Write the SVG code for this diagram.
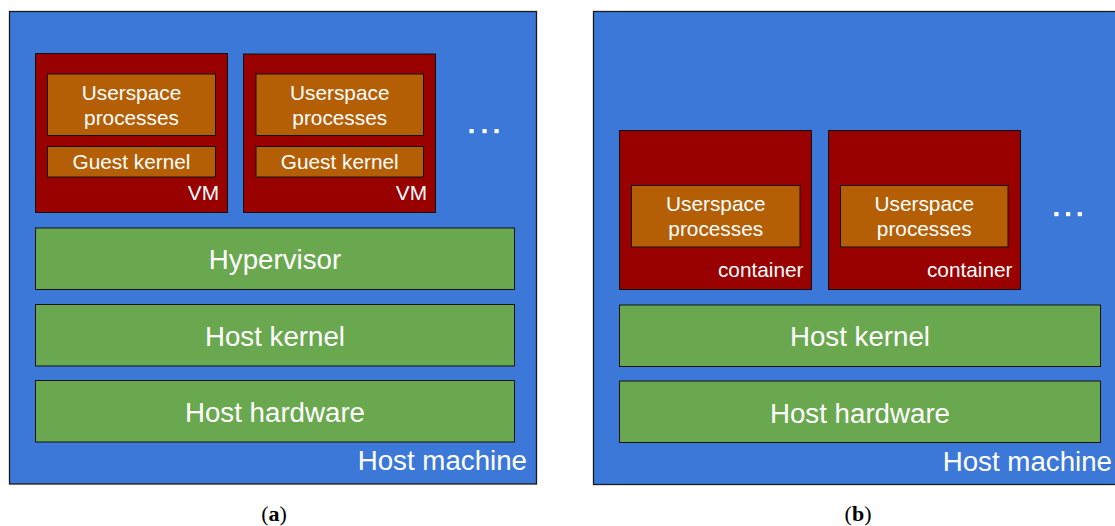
<svg xmlns="http://www.w3.org/2000/svg" width="1115" height="526" viewBox="0 0 1115 526">
  <style>
    .host { fill: #3c78d8; stroke: #1a1a1a; stroke-width: 1.3; }
    .vm { fill: #990000; stroke: #111; stroke-width: 1; }
    .proc { fill: #b45f06; stroke: #111; stroke-width: 1; }
    .layer { fill: #6aa84f; stroke: #111; stroke-width: 1; }
    .dot { fill: #ffffff; }
    text { font-family: "Liberation Sans", Arial, sans-serif; fill: #ffffff; }
    .s { font-size: 20.8px; }
    .l { font-size: 27.7px; }
    .c { text-anchor: middle; }
    .e { text-anchor: end; }
    .cap { font-family: "Liberation Serif", "Times New Roman", serif; font-size: 22px; fill: #000; text-anchor: middle; }
  </style>

  <!-- (a) virtual machines -->
  <g id="host-a">
    <rect class="host" x="9.5" y="11.5" width="527" height="472.5"/>
    <text class="l e" x="527" y="470">Host machine</text>
  </g>

  <g id="vm-1">
    <rect class="vm" x="35.5" y="53.5" width="192" height="159"/>
    <rect class="proc" x="47.5" y="74" width="168" height="61.5"/>
    <text class="s c" x="131.5" y="100">Userspace</text>
    <text class="s c" x="131.5" y="125">processes</text>
    <rect class="proc" x="47.5" y="146.5" width="168" height="30.5"/>
    <text class="s c" x="131.5" y="169">Guest kernel</text>
    <text class="s e" x="219" y="200">VM</text>
  </g>

  <g id="vm-2">
    <rect class="vm" x="243.5" y="54" width="192" height="158.5"/>
    <rect class="proc" x="256" y="74" width="167.5" height="61.5"/>
    <text class="s c" x="339.75" y="100">Userspace</text>
    <text class="s c" x="339.75" y="125">processes</text>
    <rect class="proc" x="256" y="146.5" width="167.5" height="30.5"/>
    <text class="s c" x="339.75" y="169">Guest kernel</text>
    <text class="s e" x="427" y="200">VM</text>
  </g>

  <g id="more-a">
    <rect class="dot" x="469.5" y="129" width="4.2" height="4.2"/>
    <rect class="dot" x="482.5" y="129" width="4.2" height="4.2"/>
    <rect class="dot" x="494.5" y="129" width="4.2" height="4.2"/>
  </g>

  <g id="hypervisor">
    <rect class="layer" x="35.5" y="228" width="479" height="61.5"/>
    <text class="l c" x="275" y="269">Hypervisor</text>
  </g>

  <g id="host-kernel-a">
    <rect class="layer" x="35.5" y="304.5" width="479" height="61.5"/>
    <text class="l c" x="275" y="345.5">Host kernel</text>
  </g>

  <g id="host-hardware-a">
    <rect class="layer" x="35.5" y="380.5" width="479" height="61.5"/>
    <text class="l c" x="275" y="422">Host hardware</text>
  </g>

  <!-- (b) containers -->
  <g id="host-b">
    <rect class="host" x="593.5" y="11.5" width="530" height="473"/>
    <text class="l e" x="1112" y="470.5">Host machine</text>
  </g>

  <g id="container-1">
    <rect class="vm" x="619.5" y="130.5" width="192" height="159"/>
    <rect class="proc" x="631.5" y="185.5" width="168.5" height="61.5"/>
    <text class="s c" x="715.75" y="211">Userspace</text>
    <text class="s c" x="715.75" y="236">processes</text>
    <text class="s e" x="803.5" y="276.5">container</text>
  </g>

  <g id="container-2">
    <rect class="vm" x="828.5" y="130.5" width="192" height="159"/>
    <rect class="proc" x="840.5" y="185.5" width="167.5" height="61.5"/>
    <text class="s c" x="924.25" y="211">Userspace</text>
    <text class="s c" x="924.25" y="236">processes</text>
    <text class="s e" x="1012.5" y="276.5">container</text>
  </g>

  <g id="more-b">
    <rect class="dot" x="1054.3" y="212" width="4.2" height="4.2"/>
    <rect class="dot" x="1066" y="212" width="4.2" height="4.2"/>
    <rect class="dot" x="1077.7" y="212" width="4.2" height="4.2"/>
  </g>

  <g id="host-kernel-b">
    <rect class="layer" x="619.5" y="305" width="481" height="61.5"/>
    <text class="l c" x="860" y="346">Host kernel</text>
  </g>

  <g id="host-hardware-b">
    <rect class="layer" x="619.5" y="381" width="481" height="61.5"/>
    <text class="l c" x="860" y="422.5">Host hardware</text>
  </g>

  <!-- sub-figure captions -->
  <g id="captions">
    <text class="cap" x="274" y="521">(<tspan font-weight="bold">a</tspan>)</text>
    <text class="cap" x="858" y="521">(<tspan font-weight="bold">b</tspan>)</text>
  </g>
</svg>
